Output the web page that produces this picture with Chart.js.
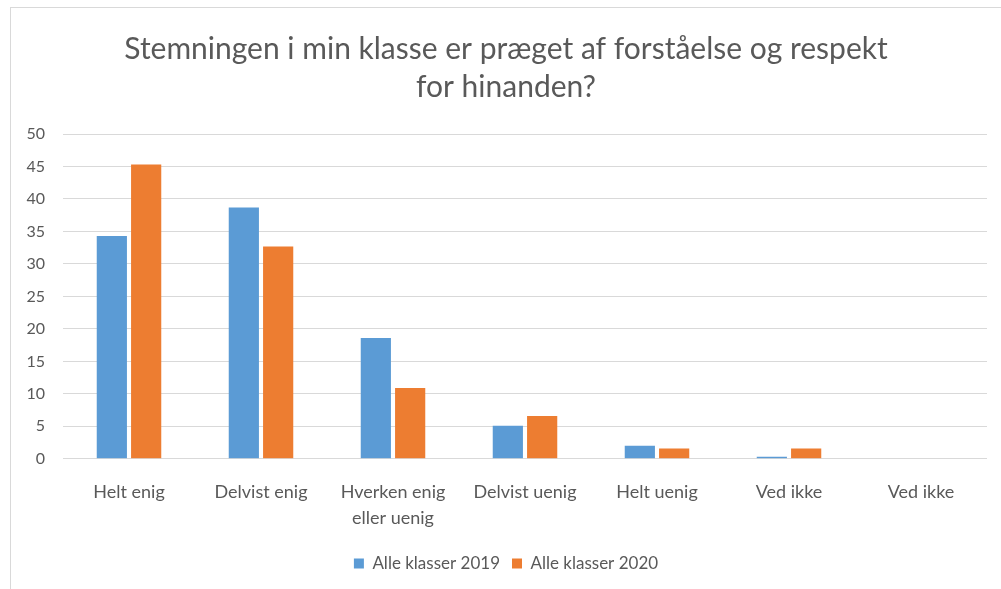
<!DOCTYPE html>
<html>
<head>
<meta charset="utf-8">
<script src="https://cdn.jsdelivr.net/npm/chart.js@4"></script>
<style>
    body { margin: 0; background: #ffffff; }
    .frame {
        position: absolute;
        left: 10px; top: 7px;
        width: 1000px; height: 590px;
        border-left: 1px solid #d9d9d9;
        border-top: 1px solid #d9d9d9;
        box-sizing: border-box;
    }
    .wrap { position: absolute; left: 0; top: 0; width: 1001px; height: 589px; }
</style>
</head>
<body>
<div class="frame"></div>
<div class="wrap"><canvas id="chart"></canvas></div>
<script>
// Kategorier og værdier
const categories = ['Helt enig', 'Delvist enig', ['Hverken enig', 'eller uenig'], 'Delvist uenig', 'Helt uenig', 'Ved ikke', 'Ved ikke'];
const values2019 = [34.3, 38.7, 18.6, 5.1, 2.0, 0.3, 0];
const values2020 = [45.3, 32.7, 10.9, 6.6, 1.6, 1.6, 0];
const yTicks = [0, 5, 10, 15, 20, 25, 30, 35, 40, 45, 50];

const textColor = '#595959';
const fontFamily = 'Lato, "Open Sans", sans-serif';

const ctx = document.getElementById('chart').getContext('2d');
new Chart(ctx, {
    type: 'bar',
    data: {
        labels: categories,
        datasets: [
            {
                label: 'Alle klasser 2019',
                data: values2019,
                backgroundColor: '#5b9bd5',
                categoryPercentage: 0.52,
                barPercentage: 0.88
            },
            {
                label: 'Alle klasser 2020',
                data: values2020,
                backgroundColor: '#ed7d31',
                categoryPercentage: 0.52,
                barPercentage: 0.88
            }
        ]
    },
    options: {
        responsive: true,
        maintainAspectRatio: false,
        animation: false,
        layout: { padding: { left: 25, right: 14, top: 17, bottom: 7 } },
        scales: {
            y: {
                min: 0,
                max: 50,
                afterBuildTicks: axis => { axis.ticks = yTicks.map(v => ({ value: v })); },
                afterFit: axis => { axis.width = 38; },
                border: { display: false },
                grid: { color: '#d9d9d9', drawTicks: false },
                ticks: { color: textColor, padding: 18, font: { family: fontFamily, size: 16 } }
            },
            x: {
                border: { display: false },
                grid: { display: false },
                ticks: { color: textColor, maxRotation: 0, padding: 12, font: { family: fontFamily, size: 18, lineHeight: 1.45 } }
            }
        },
        plugins: {
            title: {
                display: true,
                text: ['Stemningen i min klasse er præget af forståelse og respekt', 'for hinanden?'],
                color: textColor,
                font: { family: fontFamily, size: 30, weight: 'normal', lineHeight: 1.25 },
                padding: { top: 14, bottom: 28 }
            },
            legend: {
                position: 'bottom',
                labels: {
                    color: textColor,
                    boxWidth: 10,
                    boxHeight: 10,
                    padding: 12,
                    font: { family: fontFamily, size: 17 }
                }
            },
            tooltip: { enabled: false }
        }
    }
});
</script>
</body>
</html>
